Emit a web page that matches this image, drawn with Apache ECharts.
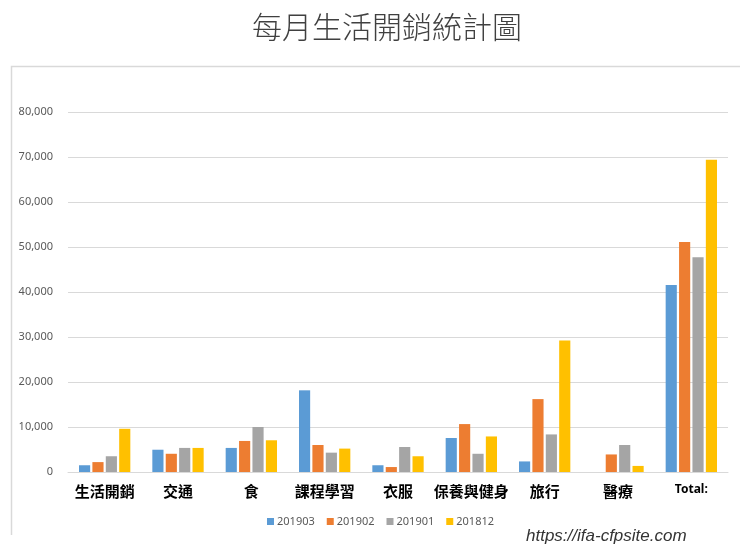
<!DOCTYPE html>
<html>
<head>
<meta charset="utf-8">
<script src="https://cdn.jsdelivr.net/npm/echarts@6/dist/echarts.min.js"></script>
<style>
html, body { margin: 0; padding: 0; background: #ffffff; }
#main { width: 740px; height: 550px; }
</style>
</head>
<body>
<div id="main"></div>
<script>
// 類別與各月數值
var categories = ['生活開銷', '交通', '食', '課程學習', '衣服', '保養與健身', '旅行', '醫療', 'Total:'];
var months = ['201903', '201902', '201901', '201812'];
var v201903 = [1500, 4950, 5350, 18150, 1500, 7550, 2350, 0, 41550];
var v201902 = [2200, 4050, 6900, 6000, 1100, 10650, 16200, 3900, 51100];
var v201901 = [3500, 5350, 10000, 4300, 5550, 4050, 8350, 6000, 47700];
var v201812 = [9600, 5350, 7050, 5200, 3500, 7900, 29250, 1350, 69400];
var colors = ['#5b9bd5', '#ed7d31', '#a5a5a5', '#ffc000'];

var myChart = echarts.init(document.getElementById('main'));
var values = [v201903, v201902, v201901, v201812];
var series = [];
for (var i = 0; i < months.length; i++) {
	series.push({
		name : months[i],
		type : 'bar',
		barGap : '20%',
		barCategoryGap : '30%',
		itemStyle : { color : colors[i] },
		data : values[i]
	});
}

var option = {
	backgroundColor : '#ffffff',
	animation : false,
	color : colors,
	title : {
		text : '每月生活開銷統計圖',
		left : 382,
		textAlign : 'center',
		top : 7,
		textStyle : {
			fontFamily : 'Noto Sans CJK TC',
			fontSize : 30,
			fontWeight : 300,
			color : '#404040'
		}
	},
	graphic : [ {
		type : 'polyline',
		shape : { points : [ [ 745, 66.5 ], [ 11.5, 66.5 ], [ 11.5, 535 ] ] },
		style : { stroke : '#d9d9d9', lineWidth : 1.5, fill : null }
	}, {
		type : 'text',
		left : 526,
		top : 528,
		style : {
			text : 'https://ifa-cfpsite.com',
			fontFamily : 'Liberation Sans',
			fontStyle : 'italic',
			fontSize : 17,
			fill : '#333333'
		}
	} ],
	legend : {
		data : months,
		left : 262,
		top : 511,
		itemWidth : 7,
		itemHeight : 7,
		itemGap : 12,
		icon : 'rect',
		textStyle : {
			fontFamily : 'Noto Sans',
			fontSize : 11,
			color : '#595959',
			padding : [ 0, 0, 0, -2 ]
		}
	},
	grid : {
		left : 68,
		right : 12,
		top : 112,
		bottom : 78,
		containLabel : false
	},
	xAxis : {
		type : 'category',
		data : categories,
		axisLine : { lineStyle : { color : '#d9d9d9' } },
		axisTick : { show : false },
		axisLabel : {
			margin : 12,
			interval : 0,
			fontFamily : 'Noto Sans CJK TC',
			fontWeight : 'bold',
			fontSize : 15,
			color : '#000000',
			formatter : function(v) {
				return v == 'Total:' ? '{t|' + v + '}' : v;
			},
			rich : {
				t : {
					fontFamily : 'Noto Sans',
					fontWeight : 'bold',
					fontSize : 12,
					color : '#000000'
				}
			}
		}
	},
	yAxis : {
		type : 'value',
		min : 0,
		max : 80000,
		interval : 10000,
		axisLine : { show : false },
		axisTick : { show : false },
		splitLine : { lineStyle : { color : '#d9d9d9' } },
		axisLabel : {
			margin : 15,
			fontFamily : 'Noto Sans',
			fontSize : 11,
			color : '#595959',
			formatter : function(v) {
				return v.toLocaleString('en-US');
			}
		}
	},
	series : series
};
myChart.setOption(option);
</script>
</body>
</html>
